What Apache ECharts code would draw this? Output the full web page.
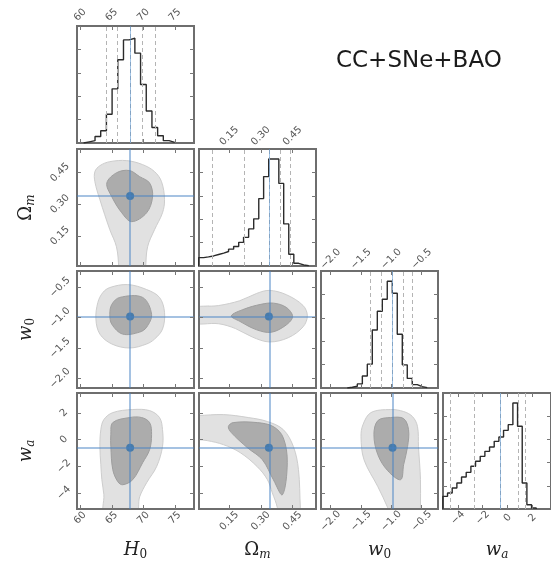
<!DOCTYPE html>
<html><head><meta charset="utf-8">
<script src="https://cdn.jsdelivr.net/npm/echarts@6/dist/echarts.min.js"></script>
<style>html,body{margin:0;padding:0;background:#fff}#c{width:551px;height:562px}</style>
</head><body><div id="c"></div>
<script>
// ---------- axis ranges and ticks ----------
const rangeH0 = [59.5, 78.0];
const rangeOm = [0.007, 0.561];
const rangeW0 = [-2.16, -0.23];
const rangeWa = [-5.2, 3.5];
const ticksH0 = [60, 65, 70, 75];
const ticksOm = [0.15, 0.30, 0.45];
const ticksW0 = [-2.0, -1.5, -1.0, -0.5];
const ticksWa = [-4, -2, 0, 2];
const labelsH0 = ['60', '65', '70', '75'];
const labelsOm = ['0.15', '0.30', '0.45'];
const labelsW0 = ['\u22122.0', '\u22121.5', '\u22121.0', '\u22120.5'];
const labelsWa = ['\u22124', '\u22122', '0', '2'];
const histTicks = [0.2, 0.4, 0.6, 0.8];

// ---------- best-fit (median) values ----------
const medians = [67.9, 0.338, -0.98, -0.6];

// ---------- 1D histograms (bin edges, relative heights) ----------
const edgesH0 = [60.55, 61.45, 62.35, 63.25, 64.15, 65.05, 65.95, 66.85, 67.75, 68.65, 69.55, 70.45, 71.35, 72.25, 73.15, 74.05, 74.95];
const heightsH0 = [0.01, 0.02, 0.056, 0.105, 0.246, 0.463, 0.712, 0.881, 0.895, 0.768, 0.50, 0.274, 0.133, 0.062, 0.02, 0.006];
const quantH0 = [64.1, 65.8, 69.8, 71.8];

const edgesOm = [0.005, 0.029, 0.052, 0.076, 0.100, 0.124, 0.147, 0.171, 0.195, 0.218, 0.242, 0.266, 0.290, 0.313, 0.337, 0.361, 0.385, 0.408, 0.432, 0.456, 0.479, 0.503, 0.527];
const heightsOm = [0.072, 0.078, 0.086, 0.098, 0.11, 0.124, 0.144, 0.167, 0.202, 0.245, 0.317, 0.403, 0.576, 0.764, 0.914, 0.914, 0.706, 0.36, 0.10, 0.023, 0.009, 0.003];
const quantOm = [0.068, 0.218, 0.392, 0.437];

const edgesW0 = [-1.726, -1.643, -1.561, -1.478, -1.396, -1.314, -1.231, -1.149, -1.067, -0.984, -0.902, -0.819, -0.737, -0.655, -0.572, -0.490, -0.408];
const heightsW0 = [0.006, 0.015, 0.035, 0.102, 0.204, 0.496, 0.656, 0.758, 0.913, 0.81, 0.46, 0.198, 0.082, 0.029, 0.012, 0.003];
const quantW0 = [-1.352, -1.160, -0.803, -0.655];

const edgesWa = [-5.21, -4.834, -4.458, -4.082, -3.706, -3.33, -2.954, -2.578, -2.202, -1.826, -1.45, -1.074, -0.698, -0.322, 0.054, 0.43, 0.806, 1.182, 1.558, 1.934, 2.31];
const heightsWa = [0.109, 0.138, 0.181, 0.224, 0.276, 0.316, 0.368, 0.411, 0.454, 0.497, 0.534, 0.583, 0.621, 0.678, 0.727, 0.914, 0.713, 0.224, 0.037, 0.009];
const quantWa = [-4.61, -2.66, 0.85, 1.40];

// ---------- 2D credible contours (68% inner, 95% outer) ----------
const cH0Om95 = [[64.69,0.501],[67.36,0.506],[69.88,0.487],[71.76,0.454],[72.87,0.406],[73.34,0.321],[73.02,0.259],[71.76,0.179],[70.66,0.098],[70.35,0.0],[70.3,-0.03],[66.0,-0.03],[66.10,0.0],[65.74,0.098],[64.69,0.179],[63.12,0.321],[62.33,0.406],[62.33,0.454],[63.12,0.482]];
const cH0Om68 = [[65.79,0.449],[67.8,0.459],[69.41,0.430],[70.98,0.40],[71.45,0.335],[70.51,0.259],[68.15,0.217],[66.58,0.259],[65.0,0.335],[64.22,0.40]];
const cH0W095 = [[64.69,-0.503],[67.52,-0.454],[70.51,-0.536],[72.55,-0.666],[73.34,-0.912],[73.02,-1.189],[71.76,-1.353],[70.51,-1.434],[67.83,-1.500],[65.0,-1.434],[63.12,-1.271],[62.49,-1.026],[62.8,-0.748],[63.59,-0.585]];
const cH0W068 = [[66.26,-0.666],[69.88,-0.666],[71.29,-0.944],[70.51,-1.157],[69.41,-1.238],[66.73,-1.271],[65.0,-1.108],[64.69,-0.944],[65.0,-0.781]];
const cH0Wa95 = [[68.31,2.26],[65.16,2.03],[63.75,1.51],[63.27,0.755],[63.12,-0.52],[63.27,-1.88],[63.43,-3.0],[63.75,-4.13],[63.9,-5.6],[68.78,-5.6],[69.41,-4.28],[70.51,-3.23],[72.08,-2.03],[73.02,-0.52],[73.02,0.755],[72.55,1.66],[70.98,2.18]];
const cH0Wa68 = [[67.83,1.66],[65.16,1.28],[64.85,0.38],[64.85,-0.52],[65.16,-2.25],[65.95,-3.15],[66.73,-3.38],[68.31,-3.0],[69.88,-1.73],[70.98,-0.75],[71.29,0.38],[70.98,1.28],[69.72,1.66]];
const cOmW095 = [[-0.03,-0.85],[0.1,-0.80],[0.2,-0.72],[0.28,-0.60],[0.34,-0.55],[0.42,-0.62],[0.5,-0.80],[0.52,-0.97],[0.5,-1.15],[0.43,-1.33],[0.34,-1.40],[0.26,-1.32],[0.18,-1.18],[0.1,-1.1],[-0.03,-1.08]];
const cOmW068 = [[0.16,-0.97],[0.22,-0.86],[0.3,-0.78],[0.36,-0.76],[0.42,-0.83],[0.45,-0.98],[0.42,-1.12],[0.35,-1.24],[0.28,-1.2],[0.2,-1.06]];
const cOmWa95 = [[-0.03,1.82],[0.003,1.81],[0.122,1.88],[0.240,1.66],[0.331,1.36],[0.406,0.755],[0.454,-0.52],[0.478,-2.25],[0.487,-5.11],[0.49,-5.6],[0.375,-5.6],[0.378,-5.11],[0.354,-3.98],[0.331,-3.0],[0.283,-2.03],[0.202,-0.97],[0.122,-0.37],[0.046,-0.07],[0.003,0.0],[-0.03,0.0]];
const cOmWa68 = [[0.146,0.98],[0.169,1.28],[0.283,1.28],[0.359,0.98],[0.406,0.15],[0.425,-1.73],[0.402,-4.13],[0.359,-3.0],[0.307,-1.50],[0.236,-0.60],[0.16,0.53]];
const cW0Wa95 = [[-1.010,2.26],[-1.336,2.03],[-1.467,1.13],[-1.500,0.23],[-1.451,-1.50],[-1.222,-3.53],[-1.059,-5.11],[-1.03,-5.6],[-0.515,-5.6],[-0.519,-5.11],[-0.519,-3.0],[-0.552,-0.52],[-0.568,0.98],[-0.650,1.73],[-0.797,2.11]];
const cW0Wa68 = [[-1.010,1.66],[-1.222,1.43],[-1.287,0.38],[-1.222,-1.13],[-1.059,-2.33],[-0.846,-3.0],[-0.797,-1.88],[-0.732,-0.52],[-0.716,0.75],[-0.797,1.58]];

const title = 'CC+SNe+BAO';

// ---------- build ----------
const P = [
  {range: rangeH0, ticks: ticksH0, labels: labelsH0, name: '{i|H}{n|0}', edges: edgesH0, heights: heightsH0, quant: quantH0, bm: 9, tm: 11, lm: 15},
  {range: rangeOm, ticks: ticksOm, labels: labelsOm, name: '{g|\u03A9}{s|m}', edges: edgesOm, heights: heightsOm, quant: quantOm, bm: 12, tm: 13, lm: 17},
  {range: rangeW0, ticks: ticksW0, labels: labelsW0, name: '{i|w}{n|0}', edges: edgesW0, heights: heightsW0, quant: quantW0, bm: 12, tm: 12, lm: 17},
  {range: rangeWa, ticks: ticksWa, labels: labelsWa, name: '{i|w}{s|a}', edges: edgesWa, heights: heightsWa, quant: quantWa, bm: 9, tm: 10, lm: 13}
];
const contours = {
  '1-0': [cH0Om95, cH0Om68], '2-0': [cH0W095, cH0W068], '3-0': [cH0Wa95, cH0Wa68],
  '2-1': [cOmW095, cOmW068], '3-1': [cOmWa95, cOmWa68], '3-2': [cW0Wa95, cW0Wa68]
};

const colLeft = [77, 199, 321, 443], rowTop = [26, 149, 271, 393], S = 117;
const frameColor = '#6e6e6e', tickColor = '#777', labelColor = '#555';
const blueLine = 'rgba(70,130,195,0.65)', blueDot = '#2f6fa9';
const rich = {
  i: {fontFamily: 'DejaVu Serif', fontStyle: 'italic', fontSize: 18, color: '#222'},
  g: {fontFamily: 'DejaVu Serif', fontSize: 18, color: '#222'},
  s: {fontFamily: 'DejaVu Serif', fontStyle: 'italic', fontSize: 12, color: '#222', padding: [10, 0, 0, 0]},
  n: {fontFamily: 'DejaVu Serif', fontSize: 12, color: '#222', padding: [10, 0, 0, 0]}
};

function labelFmt(ticks, labels) {
  return function (v) {
    let best = 0, bd = Infinity;
    ticks.forEach((t, k) => { const d = Math.abs(t - v); if (d < bd) { bd = d; best = k; } });
    return labels[best];
  };
}

const grids = [], xAxes = [], yAxes = [], series = [];

function addAxis(list, gi, pos, range, ticks, labels, showLabel, margin, name, nameGap) {
  const ax = {
    type: 'value', gridIndex: gi, position: pos, min: range[0], max: range[1],
    axisLine: {show: false, onZero: false},
    splitLine: {show: false},
    axisTick: {show: true, inside: true, length: 4, lineStyle: {color: tickColor, width: 1}, customValues: ticks},
    axisLabel: {show: showLabel, customValues: ticks, formatter: labelFmt(ticks, labels || ticks.map(String)),
      rotate: pos === 'top' ? -45 : 45, align: 'center', verticalAlign: 'middle', margin: margin || 10,
      fontFamily: 'DejaVu Sans', fontSize: 10, color: labelColor},
    z: 5
  };
  if (name) {
    ax.name = name; ax.nameLocation = 'middle'; ax.nameGap = nameGap;
    ax.nameTextStyle = {rich: rich};
  }
  list.push(ax);
  return list.length - 1;
}

for (let i = 0; i < 4; i++) {
  for (let j = 0; j <= i; j++) {
    const gi = grids.length;
    grids.push({left: colLeft[j], top: rowTop[i], width: S, height: S, show: true,
      borderColor: frameColor, borderWidth: 2, backgroundColor: '#fff', containLabel: false});
    const px = P[j];
    const diag = (i === j);
    const bottomLabels = (i === 3);
    const xb = addAxis(xAxes, gi, 'bottom', px.range, px.ticks, px.labels, bottomLabels, px.bm,
      bottomLabels ? px.name : null, 30);
    addAxis(xAxes, gi, 'top', px.range, px.ticks, px.labels, diag && i < 3, px.tm, null, 0);
    let yl;
    if (diag) {
      yl = addAxis(yAxes, gi, 'left', [0, 1], histTicks, null, false, 10, null, 0);
      addAxis(yAxes, gi, 'right', [0, 1], histTicks, null, false, 10, null, 0);
      const pts = [[px.edges[0], 0]];
      for (let k = 0; k < px.heights.length; k++) pts.push([px.edges[k], px.heights[k]]);
      pts.push([px.edges[px.edges.length - 1], px.heights[px.heights.length - 1]]);
      pts.push([px.edges[px.edges.length - 1], 0]);
      series.push({
        type: 'line', xAxisIndex: xb, yAxisIndex: yl, data: pts, step: 'end', symbol: 'none',
        lineStyle: {color: '#2b2b2b', width: 1.4}, silent: true, clip: true, z: 3,
        markLine: {silent: true, symbol: ['none', 'none'], label: {show: false}, animation: false,
          data: px.quant.map(q => ({xAxis: q, lineStyle: {color: '#b4b4b4', type: [4, 3], width: 1}}))
            .concat([{xAxis: medians[j], lineStyle: {color: '#b4b4b4', type: [4, 3], width: 1}},
                     {xAxis: medians[j], lineStyle: {color: 'rgba(90,150,210,0.55)', type: 'solid', width: 1}}])}
      });
    } else {
      const py = P[i];
      const leftLabels = (j === 0);
      yl = addAxis(yAxes, gi, 'left', py.range, py.ticks, py.labels, leftLabels, py.lm,
        leftLabels ? py.name : null, 40);
      addAxis(yAxes, gi, 'right', py.range, py.ticks, py.labels, false, 10, null, 0);
      const cs = contours[i + '-' + j];
      [[cs[0], '#e1e1e1', '#cdcdcd'], [cs[1], '#acacac', '#9e9e9e']].forEach(([poly, fill, stroke]) => {
        series.push({
          type: 'custom', xAxisIndex: xb, yAxisIndex: yl, data: poly, silent: true, clip: true, z: 2,
          renderItem: function (params, api) {
            if (params.dataIndex !== 0) return null;
            const c = params.coordSys;
            const pts = poly.map(d => api.coord(d));
            return {type: 'group', children: [{type: 'polygon', shape: {points: pts, smooth: 0.35},
              style: {fill: fill, stroke: stroke, lineWidth: 1}}],
              clipPath: {type: 'rect', shape: {x: c.x + 1, y: c.y + 1, width: c.width - 2, height: c.height - 2}}};
          }
        });
      });
      series.push({
        type: 'scatter', xAxisIndex: xb, yAxisIndex: yl, data: [[medians[j], medians[i]]],
        symbolSize: 8, itemStyle: {color: blueDot}, silent: true, z: 4,
        markLine: {silent: true, symbol: ['none', 'none'], label: {show: false}, animation: false,
          lineStyle: {color: blueLine, width: 1.5, type: 'solid'},
          data: [{xAxis: medians[j]}, {yAxis: medians[i]}]}
      });
    }
  }
}

const chart = echarts.init(document.getElementById('c'), null, {renderer: 'canvas'});
chart.setOption({
  animation: false,
  backgroundColor: '#fff',
  grid: grids, xAxis: xAxes, yAxis: yAxes, series: series,
  graphic: [{type: 'text', left: 336, top: 50, style: {text: title, fontFamily: 'DejaVu Sans', fontSize: 23, fill: '#1a1a1a'}}]
});
</script></body></html>
